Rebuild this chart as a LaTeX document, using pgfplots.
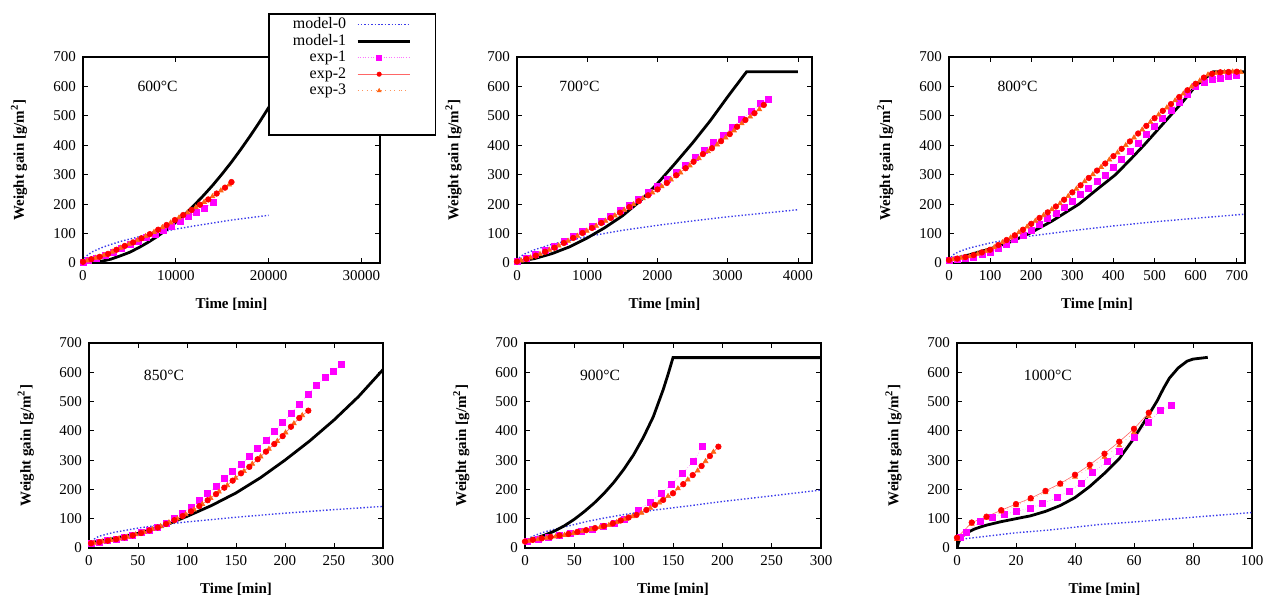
\documentclass[border=0pt]{standalone}
\usepackage{fontspec}
\setmainfont{Liberation Serif}
\usepackage{pgfplots}
\pgfplotsset{compat=1.18}

\definecolor{mzero}{RGB}{60,60,235}
\definecolor{eone}{RGB}{255,0,255}
\definecolor{etwo}{RGB}{255,0,0}
\definecolor{ethree}{RGB}{255,100,20}

\tikzset{tlabel/.style={anchor=west, font=\fontsize{7.8}{8}\selectfont}}

\pgfplotsset{
  panel/.style={
    scale only axis, width=148pt, height=103pt,
    xmin=0, ymin=0, ymax=700, ytick={0,100,...,700},
    tick align=inside, major tick length=2.5pt,
    tick style={black, line width=0.4pt},
    axis line style={line width=0.6pt},
    ticklabel style={font=\fontsize{7.5}{8}\selectfont},
    /pgf/number format/assume math mode=true,
    /pgf/number format/1000 sep={},
    xticklabel style={/pgf/number format/fixed},
    scaled x ticks=false,
    xlabel={Time [min]}, ylabel={Weight gain [g/m\textsuperscript{2}]},
    label style={font=\bfseries\fontsize{7.5}{8}\selectfont},
    xlabel style={at={(axis description cs:0.5,-0.2)}, anchor=center},
    ylabel style={at={(axis description cs:-0.215,0.5)}, anchor=center},
  },
  m0/.style={mzero, densely dotted, line width=0.7pt, mark=none},
  m1/.style={black, solid, line width=1.4pt, mark=none},
  e1/.style={eone!55, densely dotted, line width=0.3pt, mark=square*, mark size=1.5pt,
    mark options={solid, fill=eone, draw=eone}},
  e2/.style={etwo!60, solid, line width=0.3pt, mark=*, mark size=1.4pt,
    mark options={solid, fill=etwo, draw=etwo}},
  e3/.style={ethree!70, dotted, line width=0.3pt, mark=triangle*, mark size=1.4pt,
    mark options={solid, fill=ethree, draw=ethree}},
}

\begin{document}
\begin{tikzpicture}
\useasboundingbox (0,0) rectangle (633pt,299.5pt);

% ---------- 600 C ----------
\begin{axis}[panel, at={(41.5pt,168pt)}, anchor=south west, width=148.5pt,
  xmax=32000, xtick={0,10000,20000,30000},
  legend plot pos=right, legend cell align=right,
  legend image code/.code={
    \draw[mark repeat=2,mark phase=2] plot coordinates {(0cm,0cm) (0.38cm,0cm) (0.76cm,0cm)};
    \path (0.76cm,0cm) -- (0.92cm,0cm);},
  legend style={at={(0.623,1.214)}, anchor=north west, draw=black, line width=0.8pt,
    fill=white, font=\fontsize{8}{8}\selectfont, inner xsep=12pt, inner ysep=1.5pt,
    nodes={inner sep=0pt, text height=6pt, text depth=2pt}, row sep=0.25pt,
    /tikz/every odd column/.append style={column sep=5pt}},
]
\addlegendimage{m0}\addlegendentry{model-0}
\addlegendimage{m1}\addlegendentry{model-1}
\addlegendimage{e1,mark size=1.2pt}\addlegendentry{exp-1}
\addlegendimage{e2,mark size=1.1pt}\addlegendentry{exp-2}
\addlegendimage{e3,mark size=1.1pt}\addlegendentry{exp-3}
\addlegendimage{empty legend}\addlegendentry{}
\addlegendimage{empty legend}\addlegendentry{}
\addplot[forget plot, m0] coordinates {(0,5)(200,18)(500,27)(1000,38)(2000,52)(3000,63)(4000,73)(6000,89)(8000,103)(10000,115)(12000,126)(14000,136)(16000,146)(18000,154)(20000,162)};
\addplot[forget plot, m1] coordinates {(0,0)(1000,2)(2000,6)(3000,13)(4000,24)(5000,36)(6000,52)(7000,70)(8000,90)(9000,113)(10000,138)(11000,166)(12000,197)(13000,230)(14000,265)(15000,303)(16000,343)(17000,386)(18000,431)(19000,478)(20000,528)(21000,580)(22000,634)(22300,650)(32000,650)};
\addplot[forget plot, e1] coordinates {(0,3)(590,8)(1480,16)(2375,25)(3270,37)(4165,50)(5060,62)(5955,74)(6850,86)(7745,99)(8640,112)(9535,125)(10430,140)(11325,157)(12220,171)(13115,186)(14010,205)};
\addplot[forget plot, e3] coordinates {(450,8)(1350,17)(2250,26)(3150,38)(4050,51)(4950,64)(5850,77)(6750,91)(7650,105)(8550,121)(9450,137)(10350,154)(11250,171)(12150,189)(13050,207)(13950,226)(14850,246)(15750,266)};
\addplot[forget plot, e2] coordinates {(0,4)(900,13)(1800,21)(2700,31)(3600,45)(4500,58)(5400,70)(6300,84)(7200,98)(8100,113)(9000,129)(9900,146)(10800,163)(11700,180)(12600,198)(13500,216)(14400,236)(15300,256)(16000,275)};
\node[tlabel] at (rel axis cs:0.16,0.859) {600°C};
\end{axis}

% ---------- 700 C ----------
\begin{axis}[panel, at={(258.5pt,168pt)}, anchor=south west, width=147.5pt,
  xmax=4200, xtick={0,1000,...,4000}]
\addplot[m0] coordinates {(0,8)(50,22)(100,30)(250,45)(500,64)(1000,90)(1500,111)(2000,128)(2500,143)(3000,157)(3500,169)(4000,181)};
\addplot[m1] coordinates {(0,5)(250,15)(500,32)(750,55)(1000,85)(1250,120)(1500,160)(1750,210)(2000,270)(2250,338)(2500,408)(2750,483)(3000,565)(3269,650)(4000,650)};
\addplot[e1] coordinates {(0,5)(133,16)(267,28)(400,42)(533,57)(667,74)(800,91)(933,108)(1067,126)(1200,143)(1333,160)(1467,178)(1600,197)(1733,218)(1867,240)(2000,262)(2133,285)(2267,309)(2400,333)(2533,358)(2667,384)(2800,409)(2933,435)(3067,460)(3200,488)(3333,514)(3467,543)(3583,556)};
\addplot[e3] coordinates {(60,8)(193,18)(327,30)(460,44)(593,59)(727,75)(860,92)(993,109)(1127,126)(1260,143)(1393,161)(1527,180)(1660,199)(1793,219)(1927,239)(2060,260)(2193,283)(2327,307)(2460,331)(2590,355)(2720,379)(2850,402)(2970,426)(3090,450)(3200,474)(3320,497)(3450,522)};
\addplot[e2] coordinates {(0,5)(133,14)(267,25)(400,38)(533,52)(667,68)(800,85)(933,102)(1067,119)(1200,136)(1333,153)(1467,171)(1600,190)(1733,210)(1867,230)(2000,250)(2133,272)(2267,298)(2400,322)(2514,344)(2647,370)(2776,390)(2905,414)(3029,438)(3134,463)(3252,486)(3381,509)(3514,537)};
\node[tlabel] at (rel axis cs:0.12,0.859) {700°C};
\end{axis}

% ---------- 800 C ----------
\begin{axis}[panel, at={(474.5pt,168pt)}, anchor=south west, width=148pt,
  xmax=720, xtick={0,100,...,700}]
\addplot[m0] coordinates {(0,10)(10,28)(25,39)(50,51)(100,68)(150,81)(200,92)(300,110)(400,126)(500,140)(600,152)(720,166)};
\addplot[m1] coordinates {(0,11)(50,28)(100,48)(150,72)(195,100)(250,142)(316,200)(360,250)(405,300)(440,350)(474,400)(506,450)(538,500)(570,550)(599,600)(643,650)(720,650)};
\addplot[e1] coordinates {(0,8)(20,12)(40,16)(60,21)(80,28)(100,35)(120,50)(140,65)(160,80)(180,95)(200,112)(220,131)(240,151)(260,170)(280,189)(300,209)(320,232)(340,254)(360,276)(380,299)(400,326)(420,353)(440,381)(460,408)(480,436)(500,464)(520,492)(540,519)(560,547)(580,574)(600,601)(620,613)(640,625)(660,628)(680,635)(700,638)};
\addplot[e3] coordinates {(10,12)(30,17)(50,22)(70,31)(90,40)(110,53)(130,70)(150,86)(170,104)(190,123)(210,143)(230,162)(250,182)(270,202)(290,227)(310,252)(330,277)(350,301)(370,326)(390,351)(410,375)(430,400)(450,426)(470,453)(490,479)(510,504)(530,528)(550,552)(570,575)(590,599)(610,619)(630,640)(650,645)(670,648)(690,650)(710,648)};
\addplot[e2] coordinates {(0,10)(20,15)(40,20)(60,27)(80,36)(100,45)(120,61)(140,78)(160,94)(180,113)(200,133)(220,153)(240,172)(260,192)(280,215)(300,240)(320,264)(340,289)(360,314)(380,338)(400,363)(420,388)(440,413)(460,440)(480,466)(500,492)(520,517)(540,540)(560,564)(580,587)(600,609)(620,630)(640,643)(660,648)(680,649)(700,650)};
\node[tlabel] at (rel axis cs:0.14,0.859) {800°C};
\end{axis}

% ---------- 850 C ----------
\begin{axis}[panel, at={(44.5pt,25.5pt)}, anchor=south west, width=147pt, height=102.5pt,
  xmax=300, xtick={0,50,...,300}]
\addplot[m0] coordinates {(0,15)(5,30)(10,40)(25,53)(50,68)(75,80)(100,89)(150,105)(200,119)(250,131)(300,142)};
\addplot[m1] coordinates {(0,17)(25,32)(50,50)(75,74)(100,108)(125,145)(150,188)(175,240)(200,300)(225,365)(250,437)(275,517)(300,609)};
\addplot[e1] coordinates {(2.1,16)(10.6,21)(19.1,26)(27.6,31)(36.1,37)(44.6,44)(53.1,52)(61.6,61)(70.1,71)(78.6,84)(87.1,100)(95.6,119)(104.1,140)(112.6,162)(121.1,186)(129.6,212)(138.1,238)(146.6,262)(155.1,286)(163.6,312)(172.1,339)(180.6,368)(189.1,397)(197.6,428)(206.1,460)(214.6,492)(223.8,525)(232.3,556)(240.8,583)(249.3,604)(257.8,628)};
\addplot[e3] coordinates {(5,17)(13.6,22)(22.1,27)(30.6,32)(39.1,38)(47.6,46)(56.1,54)(64.6,64)(73.1,74)(81.6,87)(90.1,100)(98.6,115)(107.1,131)(115.6,150)(124.1,170)(132.6,192)(141.1,214)(149.6,239)(158.1,262)(166.6,287)(175.1,312)(183.6,338)(192.1,365)(200.6,394)(209.1,425)(217.6,453)};
\addplot[e2] coordinates {(2.1,16)(10.6,20)(19.1,25)(27.6,30)(36.1,36)(44.6,43)(53.1,51)(61.6,60)(70.1,70)(78.6,82)(87.1,95)(95.6,109)(104.1,125)(112.6,143)(121.1,163)(129.6,184)(138.1,206)(146.6,230)(155.1,255)(163.6,277)(172.1,303)(180.6,329)(189.1,355)(197.6,382)(206.1,414)(214.6,444)(223.8,469)};
\node[tlabel] at (rel axis cs:0.163,0.844) {850°C};
\end{axis}

% ---------- 900 C ----------
\begin{axis}[panel, at={(262.5pt,25.5pt)}, anchor=south west, width=148pt, height=102.5pt,
  xmax=300, xtick={0,50,...,300}]
\addplot[m0] coordinates {(0,22)(5,35)(10,43)(20,55)(30,64)(45,76)(62,90)(80,102)(100,114)(130,129)(164,143)(198,158)(250,178)(300,198)};
\addplot[m1] coordinates {(0,25)(10,33)(20,44)(30,58)(40,76)(50,98)(60,124)(70,153)(80,186)(90,224)(100,268)(110,318)(120,378)(130,448)(140,540)(145,593)(150,650)(300,650)};
\addplot[e1] coordinates {(2,22)(13,30)(24,36)(35,42)(46,49)(57,57)(68,65)(79,73)(90,84)(101,98)(114.8,130)(126.6,156)(138.5,187)(148.6,218)(159.7,255)(170.5,295)(180,346)};
\addplot[e3] coordinates {(4,23)(13,29)(22,34)(31,39)(40,44)(49,50)(58,57)(67,63)(76,70)(85,78)(93,88)(101,98)(109,108)(118,120)(127,137)(136,155)(145,177)(155,203)(165,233)(175,264)(183,296)(191,328)};
\addplot[e2] coordinates {(0,22)(8,28)(17,33)(26,38)(35,43)(44,48)(53,55)(62,61)(71,68)(80,75)(89,84)(97,94)(105,104)(113,113)(123,130)(131.7,147)(140,164)(150,187)(160.4,218)(170,249)(179,280)(187.4,314)(196,346)};
\node[tlabel] at (rel axis cs:0.162,0.844) {900°C};
\end{axis}

% ---------- 1000 C ----------
\begin{axis}[panel, at={(478.5pt,25.5pt)}, anchor=south west, width=147.5pt, height=102.5pt,
  xmax=100, xtick={0,20,...,100}]
\addplot[m0] coordinates {(0,15)(1,25)(3,32)(9,39)(20,52)(31,61)(48,80)(60,89)(70,97)(80,105)(90,113)(100,121)};
\addplot[m1] coordinates {(0,0)(0.5,18)(1,30)(2,42)(4,55)(6,65)(8,72)(10,78)(15,90)(20,100)(25,110)(30,125)(35,145)(40,172)(45,210)(50,255)(55,305)(60,375)(65,455)(68,505)(70,545)(72,580)(75,615)(78,638)(80,645)(85,651)};
\addplot[e1] coordinates {(1,35)(3,55)(8,90)(12,106)(16,115)(20,125)(25,137)(29,152)(34,172)(38,195)(42,220)(46,258)(51,295)(55,330)(60,377)(65,430)(69,470)(72.5,488)};
\addplot[e3] coordinates {(0,30)(5,82)(10,103)(15,124)(20,145)(25,166)(30,190)(35,216)(40,243)(45,274)(50,311)(55,350)(60,395)(65,450)};
\addplot[e2] coordinates {(0,35)(5,87)(10,107)(15,129)(20,150)(25,170)(30,195)(35,220)(40,250)(45,284)(50,322)(55,363)(60,407)(65,462)};
\node[tlabel] at (rel axis cs:0.203,0.844) {1000°C};
\end{axis}
\end{tikzpicture}
\end{document}
